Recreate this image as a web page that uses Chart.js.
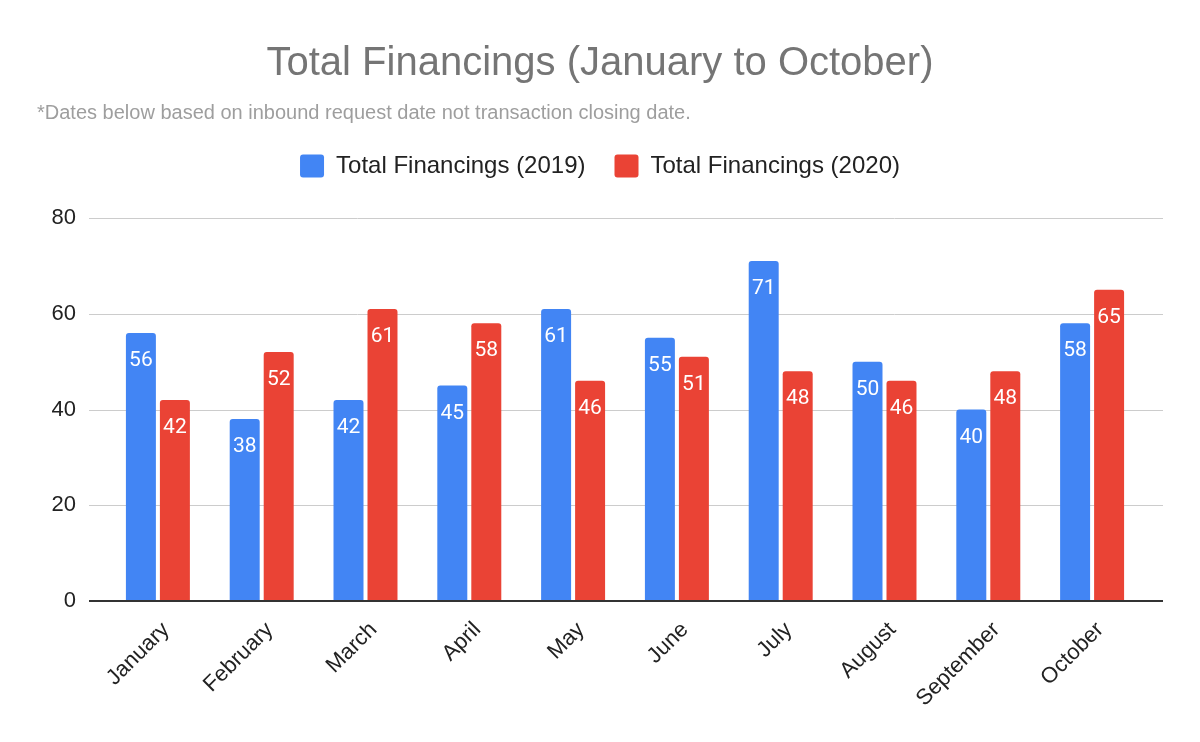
<!DOCTYPE html>
<html>
<head>
<meta charset="utf-8">
<script src="https://cdn.jsdelivr.net/npm/chart.js@4"></script>
<style>
  html, body { margin: 0; padding: 0; background: #fff; }
  #wrap { width: 1200px; height: 742px; }
</style>
</head>
<body>
<div id="wrap"><canvas id="Chart" width="1200" height="742"></canvas></div>
<script>
const months = ["January", "February", "March", "April", "May", "June", "July", "August", "September", "October"];
const fin2019 = [56, 38, 42, 45, 61, 55, 71, 50, 40, 58];
const fin2020 = [42, 52, 61, 58, 46, 51, 48, 46, 48, 65];
const yTicks = [0, 20, 40, 60, 80];

const sans = "'Liberation Sans', Arial, sans-serif";

// horizontal grid lines, a bit wider than the bar area like the original
const gridPlugin = {
  id: "gridLines",
  beforeDatasetsDraw(chart) {
    const ctx = chart.ctx;
    const y = chart.scales.y;
    const left = chart.chartArea.left - 17;
    const right = chart.chartArea.right + 19;
    ctx.save();
    ctx.strokeStyle = "#cccccc";
    ctx.lineWidth = 1;
    yTicks.forEach(function (v) {
      if (v === 0) return;
      const py = Math.round(y.getPixelForValue(v)) + 0.5;
      ctx.beginPath();
      ctx.moveTo(left, py);
      ctx.lineTo(right, py);
      ctx.stroke();
    });
    ctx.restore();
  },
  afterDatasetsDraw(chart) {
    const ctx = chart.ctx;
    const y = chart.scales.y;
    const py = y.getPixelForValue(0);
    ctx.save();
    ctx.strokeStyle = "#333333";
    ctx.lineWidth = 2;
    ctx.beginPath();
    ctx.moveTo(chart.chartArea.left - 17, py);
    ctx.lineTo(chart.chartArea.right + 19, py);
    ctx.stroke();

    // value labels inside the top of each bar
    ctx.fillStyle = "#ffffff";
    ctx.font = "21px Roboto";
    ctx.textAlign = "center";
    ctx.textBaseline = "alphabetic";
    chart.data.datasets.forEach(function (ds, i) {
      chart.getDatasetMeta(i).data.forEach(function (bar, j) {
        ctx.fillText(String(ds.data[j]), bar.x, bar.y + 33);
      });
    });
    ctx.restore();
  }
};

new Chart(document.getElementById("Chart"), {
  type: "bar",
  data: {
    labels: months,
    datasets: [
      { label: "Total Financings (2019)", data: fin2019, backgroundColor: "#4285F4", borderRadius: 3 },
      { label: "Total Financings (2020)", data: fin2020, backgroundColor: "#EA4335", borderRadius: 3 }
    ]
  },
  options: {
    responsive: false,
    animation: false,
    categoryPercentage: 0.655,
    barPercentage: 0.882,
    layout: { padding: { left: 37, right: 37, top: 0, bottom: 0 } },
    plugins: {
      title: {
        display: true,
        text: "Total Financings (January to October)",
        color: "#757575",
        font: { family: sans, size: 40, weight: "normal" },
        padding: { top: 40, bottom: 13 }
      },
      subtitle: {
        display: true,
        text: "*Dates below based on inbound request date not transaction closing date.",
        align: "start",
        color: "#9e9e9e",
        font: { family: sans, size: 20, weight: "normal" },
        padding: { top: 0, bottom: 0 }
      },
      legend: {
        position: "top",
        labels: {
          boxWidth: 24,
          boxHeight: 23,
          useBorderRadius: true,
          borderRadius: 3,
          padding: 29,
          color: "#222222",
          font: { family: sans, size: 24 }
        }
      },
      tooltip: { enabled: false }
    },
    scales: {
      x: {
        grid: { display: false, drawTicks: false },
        border: { display: false },
        ticks: {
          color: "#222222",
          font: { family: sans, size: 22 },
          maxRotation: 45,
          minRotation: 45,
          padding: 16,
          labelOffset: 8
        },
        afterFit(scale) { scale.height = 141; }
      },
      // empty spacer boxes: gap under the legend and room on the right
      xTop: {
        type: "category",
        position: "top",
        grid: { display: false, drawTicks: false },
        border: { display: false },
        ticks: { display: false },
        afterFit(scale) { scale.height = 30; }
      },
      y: {
        min: 0,
        max: 80,
        grid: { display: false, drawTicks: false },
        border: { display: false },
        ticks: {
          stepSize: 20,
          color: "#222222",
          font: { family: sans, size: 22 },
          padding: 30
        },
        afterFit(scale) { scale.width = 69; }
      },
      yRight: {
        position: "right",
        grid: { display: false, drawTicks: false },
        border: { display: false },
        ticks: { display: false },
        afterFit(scale) { scale.width = 19; }
      }
    }
  },
  plugins: [gridPlugin]
});
</script>
</body>
</html>
